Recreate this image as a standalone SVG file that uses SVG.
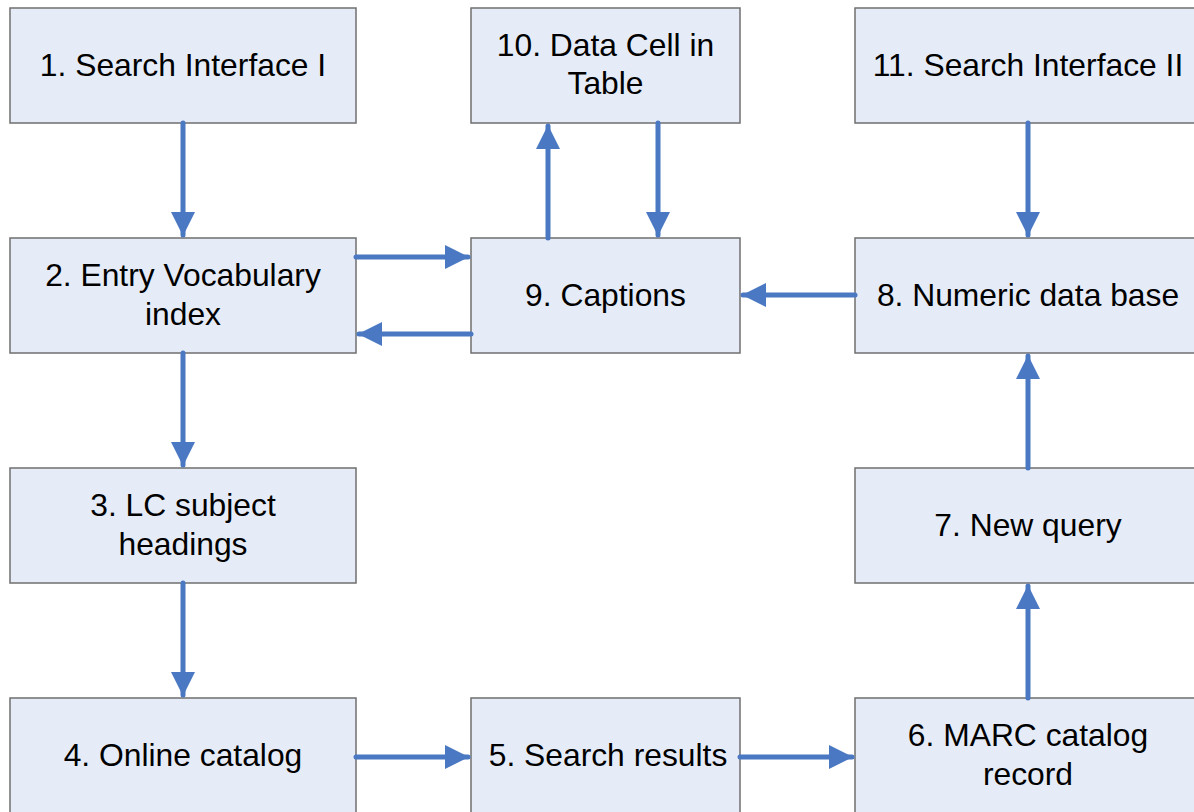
<svg xmlns="http://www.w3.org/2000/svg" width="1194" height="812" viewBox="0 0 1194 812">
<style>
.box{fill:#E6ECF7;stroke:#6F6F6F;stroke-width:1.5}
.t{font-family:"Liberation Sans",Arial,sans-serif;font-size:31.8px;fill:#000;text-anchor:middle}
.c{stroke:#4A78C2;stroke-width:5;stroke-linecap:round;fill:none}
</style>
<defs>
<marker id="ah" viewBox="0 0 24 24" refX="23" refY="12" markerWidth="24" markerHeight="24" markerUnits="userSpaceOnUse" orient="auto">
<path d="M0,0 L24,12 L0,24 Z" fill="#4A78C2"/>
</marker>
</defs>
<rect width="1194" height="812" fill="#fff"/>
<g id="n1"><rect class="box" x="10" y="8" width="346" height="115"/><text class="t" x="183" y="76">1. Search Interface I</text></g>
<g id="n10"><rect class="box" x="471" y="8" width="269" height="115"/><text class="t" x="605.5" y="56">10. Data Cell in</text><text class="t" x="605.5" y="94">Table</text></g>
<g id="n11"><rect class="box" x="855" y="8" width="346" height="115"/><text class="t" x="1028" y="76">11. Search Interface II</text></g>
<g id="n2"><rect class="box" x="10" y="238" width="346" height="115"/><text class="t" x="183" y="286">2. Entry Vocabulary</text><text class="t" x="183" y="325">index</text></g>
<g id="n9"><rect class="box" x="471" y="238" width="269" height="115"/><text class="t" x="605.5" y="306">9. Captions</text></g>
<g id="n8"><rect class="box" x="855" y="238" width="346" height="115"/><text class="t" x="1028" y="306">8. Numeric data base</text></g>
<g id="n3"><rect class="box" x="10" y="468" width="346" height="115"/><text class="t" x="183" y="516">3. LC subject</text><text class="t" x="183" y="555">headings</text></g>
<g id="n7"><rect class="box" x="855" y="468" width="346" height="115"/><text class="t" x="1028" y="536">7. New query</text></g>
<g id="n4"><rect class="box" x="10" y="698" width="346" height="120"/><text class="t" x="183" y="766">4. Online catalog</text></g>
<g id="n5"><rect class="box" x="471" y="698" width="269" height="120"/><text class="t" x="608" y="766">5. Search results</text></g>
<g id="n6"><rect class="box" x="855" y="698" width="346" height="120"/><text class="t" x="1028" y="746">6. MARC catalog</text><text class="t" x="1028" y="785">record</text></g>
<g id="connectors">
<line class="c" x1="183" y1="123" x2="183" y2="235" marker-end="url(#ah)"/>
<line class="c" x1="183" y1="353" x2="183" y2="465" marker-end="url(#ah)"/>
<line class="c" x1="183" y1="583" x2="183" y2="695" marker-end="url(#ah)"/>
<line class="c" x1="356" y1="757" x2="468" y2="757" marker-end="url(#ah)"/>
<line class="c" x1="740" y1="757" x2="852" y2="757" marker-end="url(#ah)"/>
<line class="c" x1="1028" y1="698" x2="1028" y2="586" marker-end="url(#ah)"/>
<line class="c" x1="1028" y1="468" x2="1028" y2="356" marker-end="url(#ah)"/>
<line class="c" x1="1028" y1="123" x2="1028" y2="235" marker-end="url(#ah)"/>
<line class="c" x1="855" y1="295" x2="743" y2="295" marker-end="url(#ah)"/>
<line class="c" x1="356" y1="257" x2="468" y2="257" marker-end="url(#ah)"/>
<line class="c" x1="471" y1="334" x2="359" y2="334" marker-end="url(#ah)"/>
<line class="c" x1="548" y1="238" x2="548" y2="126" marker-end="url(#ah)"/>
<line class="c" x1="658" y1="123" x2="658" y2="235" marker-end="url(#ah)"/>
</g>
</svg>
